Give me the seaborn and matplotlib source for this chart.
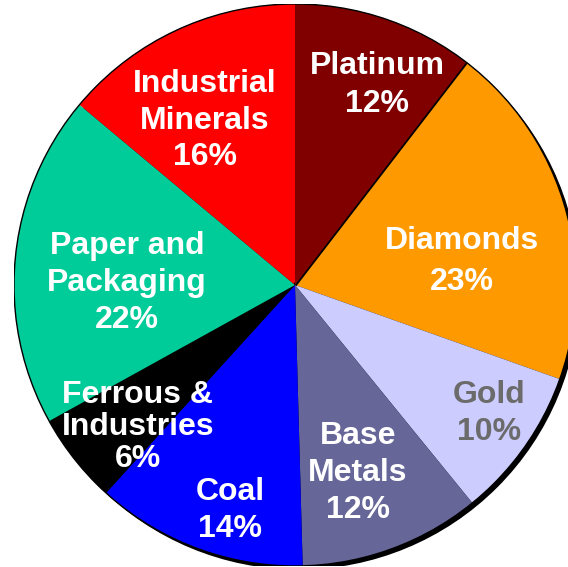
import numpy as np
import matplotlib
matplotlib.use("Agg")
import matplotlib.pyplot as plt
from matplotlib.patches import Circle
import seaborn as sns

# Business-unit share (percent), clockwise from 12 o'clock
units = ["Platinum", "Diamonds", "Gold", "Base\nMetals", "Coal",
         "Ferrous &\nIndustries", "Paper and\nPackaging", "Industrial\nMinerals"]
shares = [12, 23, 10, 12, 14, 6, 22, 16]
colors = ["#800000", "#FF9900", "#CCCCFF", "#666699", "#0000FF",
          "#000000", "#00CC99", "#FF0000"]
text_colors = ["white", "white", "#6B6B6B", "white", "white",
               "white", "white", "white"]

# label anchor points in units of the pie radius
label_xy = [(0.292, 0.712), (0.594, 0.085), (0.690, -0.456), (0.224, -0.669),
            (-0.231, -0.801), (-0.559, -0.505), (-0.598, 0.007), (-0.320, 0.584)]
label_spacing = [1.32, 1.48, 1.3, 1.32, 1.3, 1.1, 1.32, 1.28]

sns.set_style("white")
plt.rcParams["font.family"] = ["Liberation Sans", "DejaVu Sans"]

W, H = 568, 567
fig = plt.figure(figsize=(W / 100, H / 100), dpi=100)
cx, cy, r = 295, 285, 281
ax = fig.add_axes([(cx - r) / W, (H - cy - r) / H, 2 * r / W, 2 * r / H])

# drop shadow behind the pie
ax.add_patch(Circle((0.013, -0.013), 1.0, facecolor="black", edgecolor="none", zorder=0))

wedges, _ = ax.pie(shares, colors=colors, startangle=90, counterclock=False,
                   wedgeprops=dict(linewidth=0), radius=1.0)

# outline of the pie
ax.add_patch(Circle((0, 0), 1.0, facecolor="none", edgecolor="black", lw=1.0, zorder=2))

# dark seam on the trailing edge of the first wedge
th = np.deg2rad(wedges[0].theta1)
ax.plot([0, np.cos(th)], [0, np.sin(th)], color="black", lw=2.6,
        solid_capstyle="butt", zorder=1.5)
wedges[0].set_zorder(1.6)
for w in wedges[1:]:
    w.set_zorder(1.4)

for name, v, (x, y), tc, ls in zip(units, shares, label_xy, text_colors, label_spacing):
    ax.text(x, y, f"{name}\n{v}%", ha="center", va="center", color=tc,
            fontsize=23, fontweight="bold", linespacing=ls, zorder=3)

ax.set_xlim(-1, 1)
ax.set_ylim(-1, 1)
ax.set_aspect("auto")
ax.axis("off")

fig.savefig("out.png", dpi=100)
